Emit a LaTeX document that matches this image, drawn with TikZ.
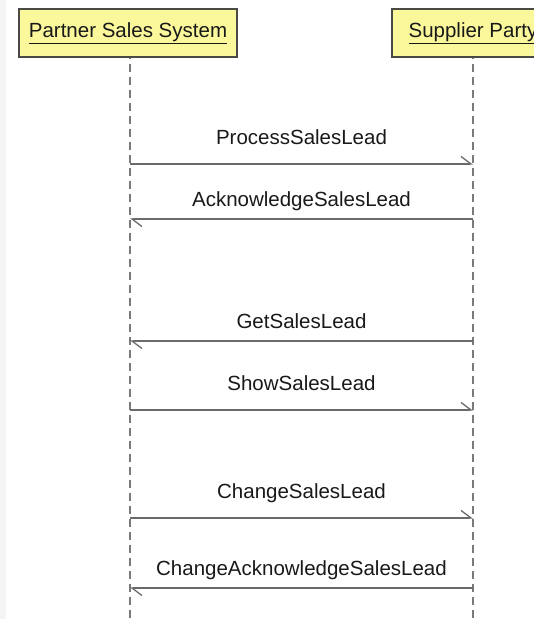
\documentclass[tikz,border=0pt]{standalone}
\usepackage{fontspec}
\setmainfont{Liberation Sans}
\usetikzlibrary{arrows.meta}
\definecolor{boxfill}{HTML}{FBF89C}
\definecolor{boxline}{HTML}{4A4A44}
\definecolor{msgline}{HTML}{6A6A6A}
\definecolor{lifeline}{HTML}{7A7A7A}
\definecolor{edgestrip}{HTML}{F5F5F5}
\tikzset{
  actor/.style={draw=boxline, fill=boxfill, line width=1.4pt, minimum height=48pt,
    inner sep=0pt, font=\fontsize{20.5}{24}\selectfont, text=black!90},
  lifedash/.style={draw=lifeline, line width=1.3pt, dash pattern=on 8pt off 5pt, dash phase=-6pt},
  msg/.style={draw=msgline, line width=1.4pt,
    -{Straight Barb[harpoon, length=10pt, width=15pt, line width=1.3pt]}},
  msglabel/.style={anchor=base, inner sep=0pt, font=\fontsize{20.5}{24}\selectfont, text=black!90}
}
\begin{document}
\begin{tikzpicture}[x=1pt, y=-1pt]
  \useasboundingbox (0,0) rectangle (534,619);
  \fill[edgestrip] (0,0) rectangle (6,619);
  \begin{scope}
    \clip (0,0) rectangle (534,619);
    % participants
    \node[actor, minimum width=218pt] (ps) at (128,33) {\underline{Partner Sales System}};
    \node[actor, minimum width=162pt] (sp) at (473,33) {\underline{Supplier Party}};
  \end{scope}
  % lifelines
  \coordinate (psend) at (130,619);
  \coordinate (spend) at (473,619);
  \draw[lifedash] (ps.south -| psend) -- (psend);
  \draw[lifedash] (sp.south -| spend) -- (spend);
  % message end points on the lifelines
  \foreach \n/\y in {1/164, 2/219, 3/341, 4/410, 5/518, 6/588} {
    \coordinate (l\n) at (psend |- 0,\y);
    \coordinate (r\n) at (spend |- 0,\y);
  }
  % messages
  \draw[msg] (l1) -- (r1);
  \draw[msg] (r2) -- (l2);
  \draw[msg] (r3) -- (l3);
  \draw[msg] (l4) -- (r4);
  \draw[msg] (l5) -- (r5);
  \draw[msg] (r6) -- (l6);
  % message labels
  \node[msglabel] (t1) at (301.5,144) {ProcessSalesLead};
  \node[msglabel] (t2) at (301.5,206) {AcknowledgeSalesLead};
  \node[msglabel] (t3) at (301.5,328) {GetSalesLead};
  \node[msglabel] (t4) at (301.5,390) {ShowSalesLead};
  \node[msglabel] (t5) at (301.5,498) {ChangeSalesLead};
  \node[msglabel] (t6) at (301.5,575) {ChangeAcknowledgeSalesLead};
\end{tikzpicture}
\end{document}
